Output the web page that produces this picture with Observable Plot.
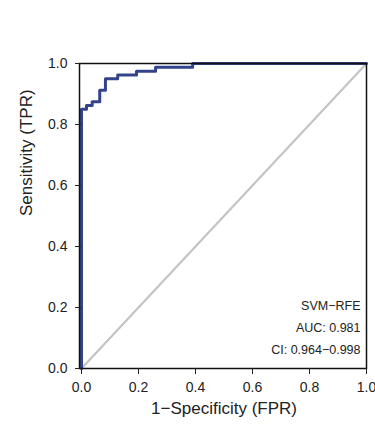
<!DOCTYPE html>
<html><head><meta charset="utf-8">
<script src="https://cdn.jsdelivr.net/npm/d3@7"></script>
<script src="https://cdn.jsdelivr.net/npm/@observablehq/plot@0.6"></script>
<style>body{margin:0;background:#fff;font-family:"Liberation Sans",Arial,sans-serif}</style>
</head><body><div id="chart"></div>
<script>
const fpr = [0, 0, 0.0175, 0.0375, 0.064, 0.084, 0.127, 0.193, 0.26, 0.39, 1];
const tpr = [0, 0.85, 0.8625, 0.875, 0.9125, 0.95, 0.9625, 0.975, 0.9875, 1, 1];
const ticks = [0, 0.2, 0.4, 0.6, 0.8, 1.0];
const legendLines = ["SVM\u2212RFE", "AUC: 0.981", "CI: 0.964\u22120.998"];

const roc = fpr.map((x, i) => ({x, y: tpr[i]}));
const diag = [{x: 0, y: 0}, {x: 1, y: 1}];

const chart = Plot.plot({
  width: 375, height: 425,
  marginLeft: 81, marginRight: 9, marginTop: 63, marginBottom: 57,
  style: {fontFamily: "Liberation Sans, Arial, sans-serif", fontSize: "14px", color: "#222", background: "#fff", overflow: "visible"},
  x: {domain: [0, 1]},
  y: {domain: [0, 1]},
  marks: [
    Plot.line(diag, {x: "x", y: "y", stroke: "#c4c4c4", strokeWidth: 2.2}),
    Plot.line(roc, {x: "x", y: "y", curve: "step-after", stroke: "#34448a", strokeWidth: 3}),
    Plot.frame({stroke: "#111", strokeWidth: 1.5, insetLeft: -2}),
    Plot.axisX({ticks, tickFormat: d3.format(".1f"), tickSize: 6, tickPadding: 8, fontSize: 14, label: null}),
    Plot.axisY({ticks, tickFormat: d3.format(".1f"), tickSize: 6, tickPadding: 8, fontSize: 14, label: null}),
    ...legendLines.map((t, i) => Plot.text([t], {text: d => d, frameAnchor: "bottom-right", dx: -6, dy: -15 - (2 - i) * 22, textAnchor: "end", fontSize: 12.5})),
    Plot.text(["1\u2212Specificity (FPR)"], {text: d => d, frameAnchor: "bottom", dy: 45, fontSize: 17}),
    Plot.text(["Sensitivity (TPR)"], {text: d => d, frameAnchor: "left", dx: -55, rotate: -90, fontSize: 17})
  ]
});
document.getElementById("chart").appendChild(chart);
</script></body></html>
